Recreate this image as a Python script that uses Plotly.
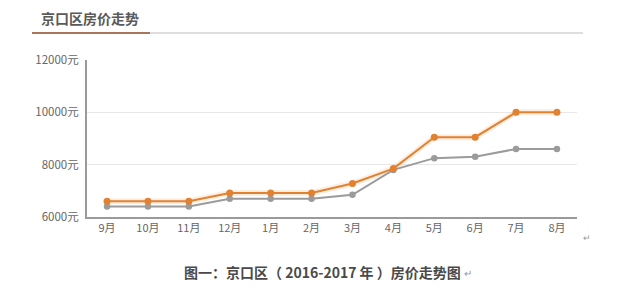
import plotly.graph_objects as go

months = ["9月", "10月", "11月", "12月", "1月", "2月", "3月", "4月", "5月", "6月", "7月", "8月"]
orange_vals = [6600, 6600, 6600, 6920, 6920, 6920, 7280, 7850, 9050, 9050, 10000, 10000]
gray_vals = [6400, 6400, 6400, 6700, 6700, 6700, 6850, 7800, 8250, 8300, 8600, 8600]
y_ticks = [6000, 8000, 10000, 12000]
y_tick_text = [f"{v}元" for v in y_ticks]

FONT = "Noto Sans CJK SC"
ORANGE = "#e2812f"
GRAY = "#9b9b9b"

# plot area in pixels
L, R, T, B = 87, 577, 60, 216.7
W, H = 623, 291
def px(x):
    return (x - L) / (R - L)
def py(y):
    return (B - y) / (B - T)

fig = go.Figure()
# glow behind orange line
fig.add_trace(go.Scatter(x=months, y=orange_vals, mode="lines",
                         line=dict(color="rgba(240,160,90,0.18)", width=6),
                         hoverinfo="skip", showlegend=False))
fig.add_trace(go.Scatter(x=months, y=gray_vals, mode="lines+markers",
                         line=dict(color=GRAY, width=2),
                         marker=dict(color=GRAY, size=6.5), showlegend=False))
fig.add_trace(go.Scatter(x=months, y=orange_vals, mode="lines+markers",
                         line=dict(color=ORANGE, width=2),
                         marker=dict(color=ORANGE, size=7), showlegend=False))

fig.update_layout(
    width=W, height=H,
    margin=dict(l=L, r=W - R, t=T, b=H - B),
    paper_bgcolor="white", plot_bgcolor="white",
    font=dict(family=FONT, color="#666666"),
    showlegend=False,
    xaxis=dict(type="category", range=[-0.49, 11.49], showgrid=False,
               showline=True, linecolor="#9a9a9a", linewidth=2,
               ticks="", tickfont=dict(size=11, color="#666666", family=FONT),
               fixedrange=True),
    yaxis=dict(range=[6000, 12000], tickvals=y_ticks, ticktext=y_tick_text,
               showgrid=True, gridcolor="#e8e8e8", gridwidth=1,
               showline=True, linecolor="#9a9a9a", linewidth=2,
               zeroline=False, ticks="",
               tickfont=dict(size=11.5, color="#666666", family=FONT),
               ticklabelstandoff=4, fixedrange=True),
    shapes=[
        dict(type="line", xref="paper", yref="paper",
             x0=px(150), x1=px(583), y0=py(33), y1=py(33),
             line=dict(color="#dedede", width=2)),
        dict(type="line", xref="paper", yref="paper",
             x0=px(32), x1=px(150), y0=py(33), y1=py(33),
             line=dict(color="#a8775a", width=2)),
    ],
    annotations=[
        dict(text="<b>京口区房价走势</b>", xref="paper", yref="paper",
             x=px(39), y=py(18), xanchor="left", yanchor="middle",
             showarrow=False, font=dict(size=14, color="#5a5a5a", family=FONT)),
        dict(text="<b>图一：京口区（ 2016-2017 年 ）房价走势图</b>", xref="paper", yref="paper",
             x=px(322), y=py(272), xanchor="center", yanchor="middle",
             showarrow=False, font=dict(size=14, color="#4a4a4a", family=FONT)),
        dict(text="↵", xref="paper", yref="paper",
             x=px(462), y=py(272), xanchor="left", yanchor="middle",
             showarrow=False, font=dict(size=10, color="#999999", family=FONT)),
        dict(text="↵", xref="paper", yref="paper",
             x=px(587), y=py(237), xanchor="center", yanchor="middle",
             showarrow=False, font=dict(size=9, color="#999999", family=FONT)),
    ],
)

fig.write_html("out.html")
